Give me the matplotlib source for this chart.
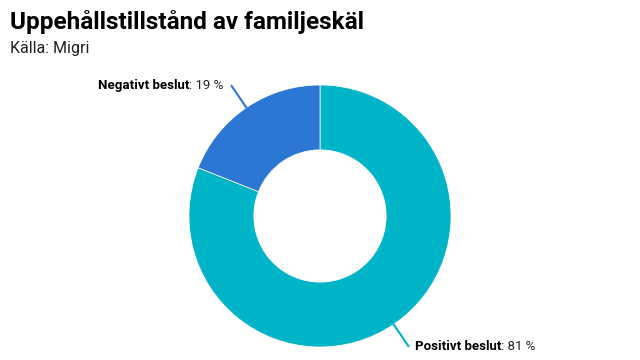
import matplotlib
matplotlib.use("Agg")
import matplotlib.pyplot as plt
import numpy as np

title = "Uppehållstillstånd av familjeskäl"
subtitle = "Källa: Migri"
categories = ["Positivt beslut", "Negativt beslut"]
values = [81, 19]
colors = ["#00b4c8", "#2c77d3"]

FONT = ["Roboto", "DejaVu Sans"]

W, H = 640, 360
fig = plt.figure(figsize=(6.4, 3.6), dpi=100)

def fx(px):
    return px / W

def fy(py):
    return 1 - py / H

fig.text(fx(10), fy(22), title, fontsize=17.5, fontweight="bold", family=FONT,
         va="center", ha="left", color="#000000")
fig.text(fx(10), fy(49), subtitle, fontsize=11.5, family=FONT,
         va="center", ha="left", color="#222222")

cx, cy, R = 320, 216, 131
ax = fig.add_axes([fx(cx - R), fy(cy + R), 2 * R / W, 2 * R / H])
wedges, _ = ax.pie(values, colors=colors, startangle=90, counterclock=False,
                   radius=1, wedgeprops=dict(width=0.495, edgecolor="white", linewidth=0.5))
ax.set_xlim(-1, 1)
ax.set_ylim(-1, 1)
ax.set_aspect("equal")
ax.axis("off")

total = sum(values)
start = 90.0
for i, (cat, val) in enumerate(zip(categories, values)):
    ang = start - 360 * val / total / 2
    start -= 360 * val / total
    a = np.deg2rad(ang)
    x0, y0 = np.cos(a), np.sin(a)
    x1, y1 = 1.2 * x0, 1.2 * y0
    col = colors[i]
    ax.plot([x0, x1], [y0, y1], color=col, lw=1.5, clip_on=False)
    if x0 >= 0:
        t1 = ax.text(x1 + 0.05, y1, cat, fontsize=9.5, fontweight="bold", family=FONT,
                     ha="left", va="center", color="#000000")
        ax.annotate(f": {val} %", xy=(1, 0.5), xycoords=t1, fontsize=9.5, family=FONT,
                    ha="left", va="center", color="#222222")
    else:
        t2 = ax.text(x1 - 0.06, y1, f": {val} %", fontsize=9.5, family=FONT,
                     ha="right", va="center", color="#222222")
        ax.annotate(cat, xy=(0, 0.5), xycoords=t2, fontsize=9.5, fontweight="bold",
                    family=FONT, ha="right", va="center", color="#000000")

fig.savefig("out.png", dpi=100)
